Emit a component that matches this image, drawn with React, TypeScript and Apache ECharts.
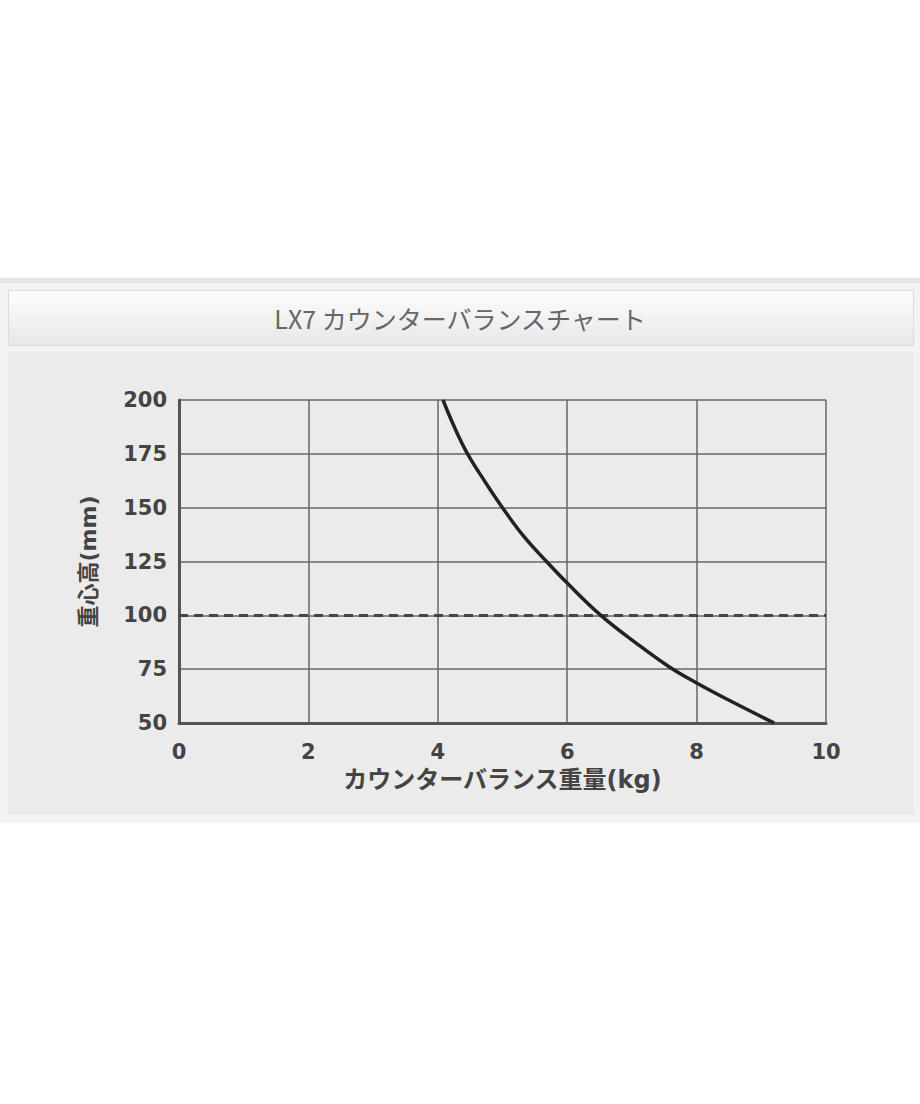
import { useEffect, useRef } from 'react';
import * as echarts from 'echarts';

const chartTitle = 'LX7 カウンターバランスチャート';
const xName = 'カウンターバランス重量(kg)';
const yName = '重心高(mm)';

// curve: [weight kg, height mm]
const curveWeight = [4.08, 4.26, 4.46, 4.74, 5.0, 5.32, 5.68, 6.0, 6.52, 7.07, 7.58, 8.0, 8.57, 9.2];
const curveHeight = [200, 187.2, 175, 161.6, 150, 137, 125, 115, 100, 87, 76, 68.6, 59.5, 50];
const referenceHeight = 100;

const App = () => {
  const chartRef = useRef<HTMLDivElement>(null);

  useEffect(() => {
    if (!chartRef.current) return;
    const chart = echarts.init(chartRef.current, null, { renderer: 'svg' });

    const tickFont = {
      color: '#444',
      fontSize: 21,
      fontWeight: 'bold' as const,
      fontFamily: '"DejaVu Sans", "Noto Sans CJK JP", sans-serif'
    };
    const nameFont = {
      color: '#444',
      fontSize: 24,
      fontWeight: 'bold' as const,
      fontFamily: '"DejaVu Sans", "Noto Sans CJK JP", sans-serif'
    };

    const option: echarts.EChartsOption = {
      animation: false,
      backgroundColor: '#ffffff',
      graphic: [
        // outer panel
        { type: 'rect', z: -10, shape: { x: 0, y: 278, width: 920, height: 545 }, style: { fill: '#f3f3f3' } },
        { type: 'rect', z: -10, shape: { x: 0, y: 278, width: 920, height: 5 }, style: { fill: '#e4e4e4' } },
        // title bar
        {
          type: 'rect',
          z: -9,
          shape: { x: 8.5, y: 290.5, width: 905, height: 55 },
          style: {
            fill: new echarts.graphic.LinearGradient(0, 0, 0, 1, [
              { offset: 0, color: '#fdfdfd' },
              { offset: 1, color: '#e7e7e7' }
            ]),
            stroke: '#dcdcdc',
            lineWidth: 1
          }
        },
        // chart body
        { type: 'rect', z: -9, shape: { x: 8, y: 352, width: 906, height: 463 }, style: { fill: '#ebebeb' } }
      ],
      title: {
        text: chartTitle,
        left: 'center',
        top: 300,
        textStyle: {
          color: '#666',
          fontSize: 25,
          fontWeight: 'normal',
          fontFamily: '"Noto Sans CJK JP", sans-serif'
        }
      },
      grid: { left: 179, right: 94, top: 400, bottom: 381 },
      xAxis: {
        type: 'value',
        min: 0,
        max: 10,
        interval: 2,
        name: xName,
        nameLocation: 'middle',
        nameGap: 45,
        nameTextStyle: nameFont,
        axisLine: { show: true, onZero: false, lineStyle: { color: '#555', width: 3 } },
        axisTick: { show: false },
        axisLabel: { ...tickFont, margin: 18 },
        splitLine: { show: true, lineStyle: { color: '#666', width: 1.5 } }
      },
      yAxis: {
        type: 'value',
        min: 50,
        max: 200,
        interval: 25,
        name: yName,
        nameLocation: 'middle',
        nameGap: 80,
        nameTextStyle: { ...nameFont, fontSize: 22 },
        axisLine: { show: true, onZero: false, lineStyle: { color: '#555', width: 3 } },
        axisTick: { show: false },
        axisLabel: { ...tickFont, margin: 12 },
        splitLine: { show: true, lineStyle: { color: '#666', width: 1.5 } }
      },
      series: [
        {
          type: 'line',
          data: curveWeight.map((w, i) => [w, curveHeight[i]]),
          smooth: 0.4,
          showSymbol: false,
          lineStyle: { color: '#222', width: 3.5 },
          markLine: {
            silent: true,
            symbol: 'none',
            label: { show: false },
            lineStyle: { color: '#444', width: 3, type: [9, 6] },
            data: [{ yAxis: referenceHeight }]
          },
          z: 5
        }
      ]
    };

    chart.setOption(option);
    return () => {
      chart.dispose();
    };
  }, []);

  return (
    <div
      ref={chartRef}
      style={{ position: 'absolute', left: 0, top: 0, width: 920, height: 1104 }}
    />
  );
};

export default App;
